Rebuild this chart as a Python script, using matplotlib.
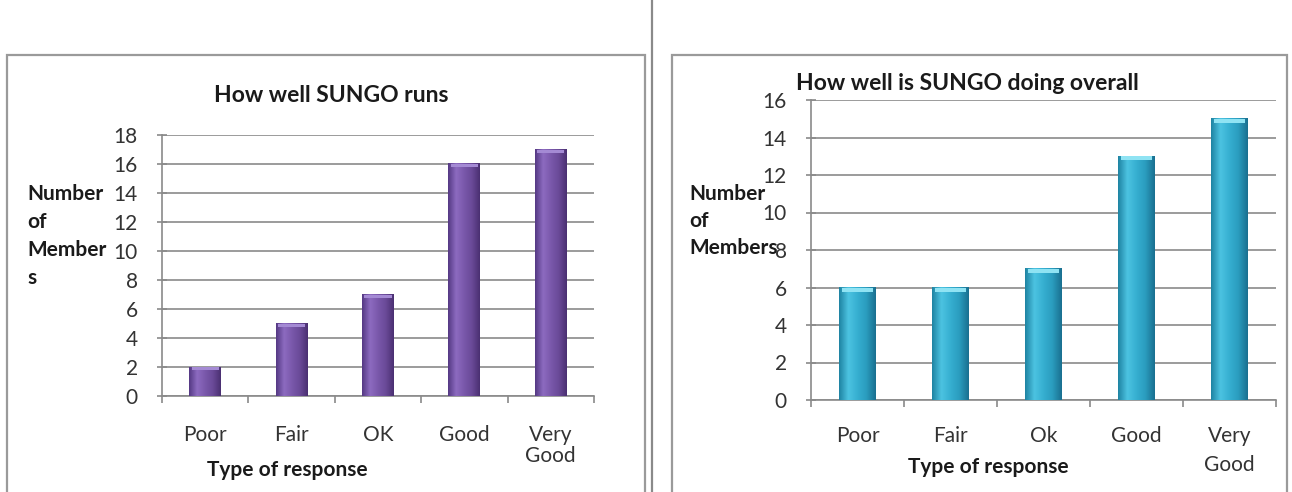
import numpy as np
import matplotlib
matplotlib.use("Agg")
import matplotlib.pyplot as plt
from matplotlib.colors import LinearSegmentedColormap
from matplotlib.patches import Rectangle
from matplotlib.lines import Line2D

plt.rcParams['font.family'] = ['Lato', 'DejaVu Sans']

# data
cats_left = ['Poor', 'Fair', 'OK', 'Good', 'Very\nGood']
vals_left = [2, 5, 7, 16, 17]
cats_right = ['Poor', 'Fair', 'Ok', 'Good', 'Very\nGood']
vals_right = [6, 6, 7, 13, 15]
title_left = 'How well SUNGO runs'
title_right = 'How well is SUNGO doing overall'

W, H = 1292, 492
fig = plt.figure(figsize=(W / 100, H / 100), dpi=100)
fig.patch.set_facecolor('white')


def px(x0, y0, x1, y1):
    # pixel box -> figure fraction [left, bottom, width, height]
    return [x0 / W, 1 - y1 / H, (x1 - x0) / W, (y1 - y0) / H]


# frames of the scanned page
for x0, x1 in [(7, 645), (672, 1287)]:
    fig.add_artist(Rectangle((x0 / W, -0.05), (x1 - x0) / W, 1.05 - 55 / H,
                             transform=fig.transFigure, fill=False,
                             edgecolor='#9a9a9a', lw=1.6))
fig.add_artist(Line2D([652 / W, 652 / W], [0, 1], transform=fig.transFigure,
                      color='#8a8a8a', lw=1.6))


def gradient_bars(ax, vals, width, cols, cap):
    cmap = LinearSegmentedColormap.from_list('g', cols)
    grad = np.linspace(0, 1, 64).reshape(1, -1)
    for i, v in enumerate(vals):
        ax.imshow(grad, cmap=cmap, aspect='auto', zorder=3,
                  extent=(i - width / 2, i + width / 2, 0, v))
        ax.bar(i, 0.22, bottom=v - 0.22, width=width * 0.85, color=cap,
               zorder=4, lw=0)


def style(ax, cats, ymax, title, ylab, title_xy, xlabel_xy, xpad, vspace):
    ax.set_xlim(-0.5, len(cats) - 0.5)
    ax.set_ylim(0, ymax)
    ax.set_yticks(range(0, ymax + 1, 2))
    ax.set_xticks(range(len(cats)))
    ax.set_xticklabels(cats, fontsize=15, color='#333333', linespacing=vspace)
    ax.set_xticks(np.arange(-0.5, len(cats), 1), minor=True)
    ax.tick_params(axis='x', which='major', length=0, pad=xpad)
    ax.tick_params(axis='x', which='minor', length=5, width=1.2,
                   color='#8a8a8a', direction='out')
    ax.tick_params(axis='y', length=7, width=1.2, color='#8a8a8a',
                   direction='inout', labelsize=15, labelcolor='#333333',
                   pad=14)
    ax.grid(axis='y', color='#8a8a8a', lw=1.2, zorder=0)
    ax.set_axisbelow(True)
    for s in ['top', 'right']:
        ax.spines[s].set_visible(False)
    for s in ['left', 'bottom']:
        ax.spines[s].set_color('#8a8a8a')
        ax.spines[s].set_linewidth(1.2)
    fig.text(title_xy[0] / W, 1 - title_xy[1] / H, title, fontsize=16.5,
             fontweight='bold', color='#1a1a1a', ha='center', va='center')
    fig.text(xlabel_xy[0] / W, 1 - xlabel_xy[1] / H, 'Type of response',
             fontsize=15, fontweight='bold', color='#1a1a1a',
             ha='center', va='center')
    fig.text(ylab[0] / W, 1 - ylab[1] / H, ylab[2],
             fontsize=15, fontweight='bold', color='#1a1a1a',
             ha='left', va='top', linespacing=ylab[3])


# left chart
ax1 = fig.add_axes(px(162, 135, 594, 396))
gradient_bars(ax1, vals_left, 0.37,
              ['#553984', '#8d6bc0', '#7a58ab', '#6a4a98', '#4a3072'],
              '#a48ad4')
style(ax1, cats_left, 18, title_left,
      (27, 184, 'Number\nof\nMember\ns', 1.5), (331, 95), (287, 470), 21, 1.05)

# right chart
ax2 = fig.add_axes(px(811, 100, 1276, 400))
gradient_bars(ax2, vals_right, 0.39,
              ['#1f84a3', '#4cc3e1', '#36afd1', '#2a9cbe', '#1a7090'],
              '#8fe3f3')
style(ax2, cats_right, 16, title_right,
      (689, 184, 'Number\nof\nMembers', 1.45), (967, 83), (988, 467), 19, 1.55)

fig.savefig('out.png', dpi=100, facecolor='white')
